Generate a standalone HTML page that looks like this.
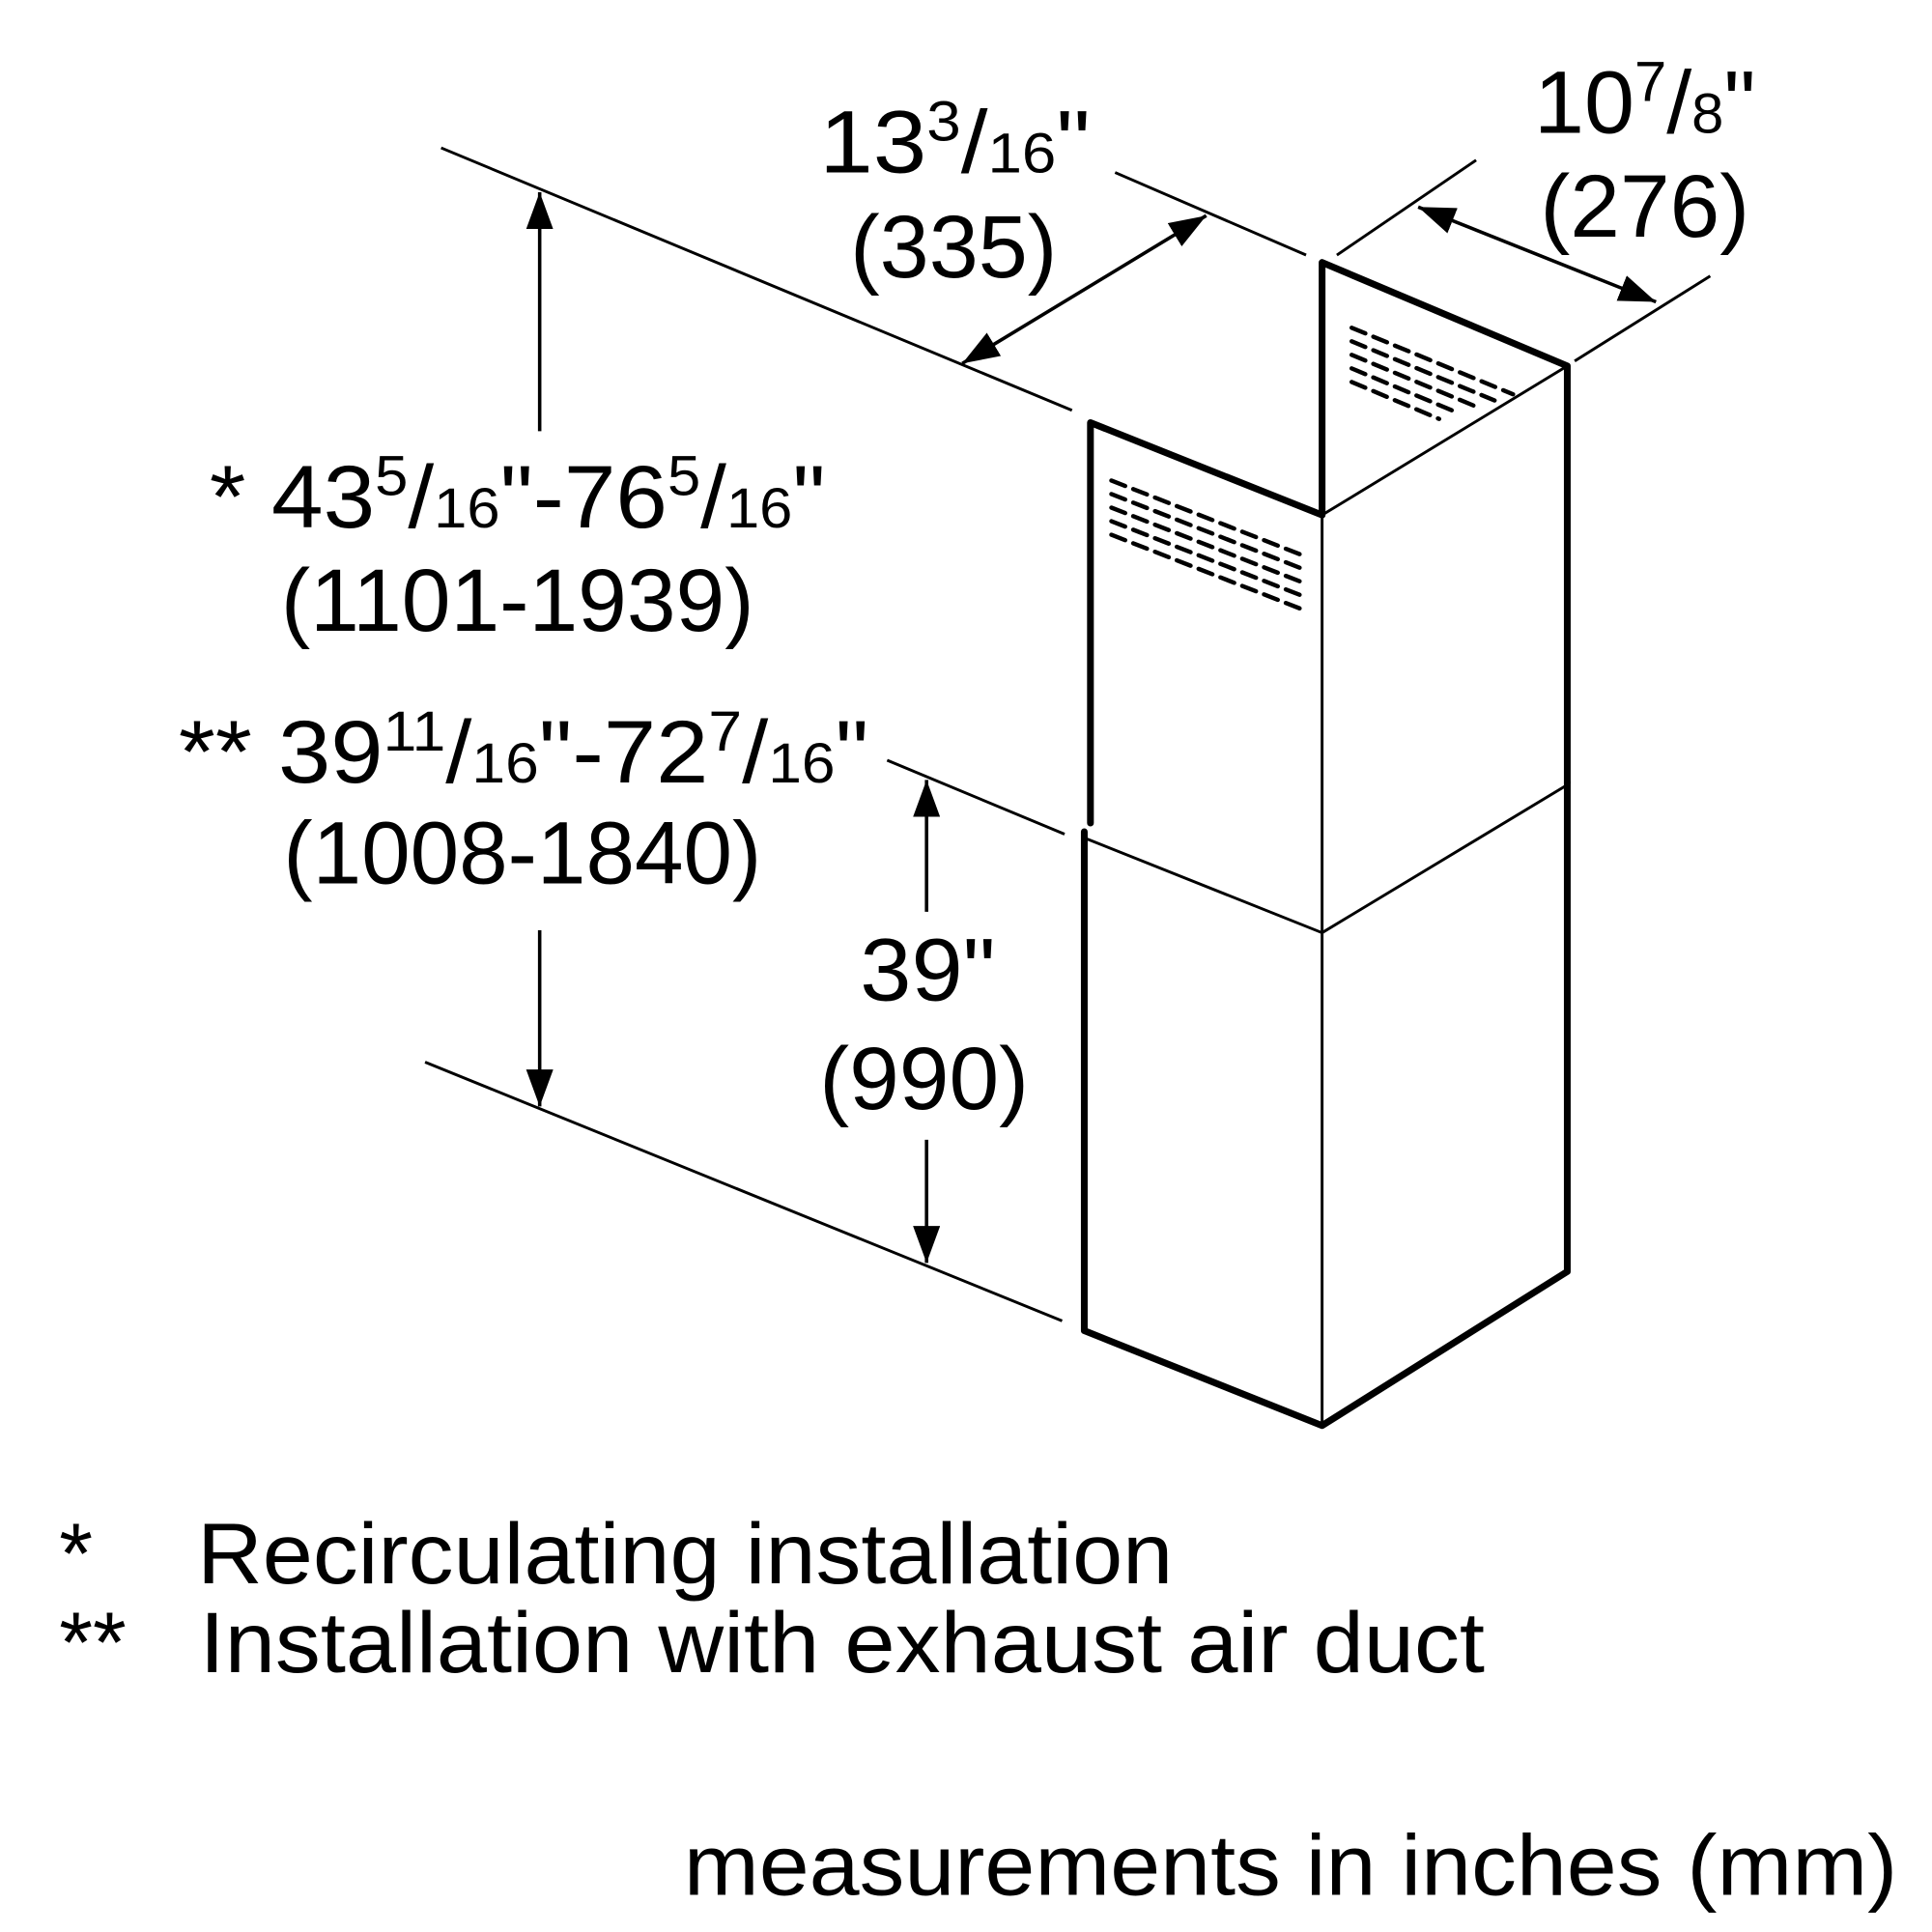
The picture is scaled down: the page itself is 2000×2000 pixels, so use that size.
<!DOCTYPE html>
<html><head><meta charset="utf-8"><style>html,body{margin:0;padding:0;background:#fff}svg{display:block}</style></head>
<body>
<svg width="2000" height="2000" viewBox="0 0 1568 1568" xmlns="http://www.w3.org/2000/svg" font-family="Liberation Sans, Arial, sans-serif" fill="#000">
<defs>
<marker id="a" viewBox="0 0 10 10" refX="10" refY="5" markerWidth="30" markerHeight="22" markerUnits="userSpaceOnUse" orient="auto-start-reverse" preserveAspectRatio="none"><path d="M0,0 L10,5 L0,10 z"/></marker>
</defs>
<g stroke="#000" stroke-width="2.3" fill="none">
<line x1="358" y1="120" x2="870" y2="333"/>
<line x1="345" y1="862" x2="862" y2="1072"/>
<line x1="720" y1="617" x2="864" y2="677"/>
<line x1="905" y1="140" x2="1060" y2="207"/>
<line x1="1085" y1="207" x2="1198" y2="130"/>
<line x1="1278" y1="293" x2="1388" y2="224"/>
<g stroke-width="2.8">
<line x1="438" y1="350" x2="438" y2="156" marker-end="url(#a)"/>
<line x1="438" y1="755" x2="438" y2="898" marker-end="url(#a)"/>
<line x1="752" y1="740" x2="752" y2="633" marker-end="url(#a)"/>
<line x1="752" y1="925" x2="752" y2="1025" marker-end="url(#a)"/>
<line x1="781" y1="295" x2="979" y2="175" marker-start="url(#a)" marker-end="url(#a)"/>
<line x1="1151" y1="168" x2="1344" y2="245" marker-start="url(#a)" marker-end="url(#a)"/>
</g>
<line x1="1073" y1="418" x2="1272" y2="297"/>
<line x1="1073" y1="418" x2="1073" y2="1157"/>
<line x1="880" y1="680" x2="1073" y2="757"/>
<line x1="1073" y1="757" x2="1272" y2="637"/>
<g stroke-width="5.5" stroke-linejoin="round" stroke-linecap="round">
<polyline points="885,668 885,343 1073,418"/>
<polyline points="1073,418 1073,213 1272,297 1272,635"/>
<polyline points="880,675 880,1080 1073,1157 1272,1032 1272,635"/>
</g>
<g stroke-width="3.5" stroke-dasharray="12,7" stroke-linecap="round">
<line x1="902" y1="390" x2="1058" y2="451"/>
<line x1="902" y1="401" x2="1058" y2="462"/>
<line x1="902" y1="412" x2="1058" y2="473"/>
<line x1="902" y1="423" x2="1058" y2="484"/>
<line x1="902" y1="434" x2="1058" y2="495"/>
<line x1="1097" y1="266" x2="1228" y2="320"/>
<line x1="1097" y1="277" x2="1213" y2="325"/>
<line x1="1097" y1="288" x2="1198" y2="330"/>
<line x1="1097" y1="299" x2="1183" y2="335"/>
<line x1="1097" y1="310" x2="1168" y2="340"/>
</g>
</g>
<g font-size="72" lengthAdjust="spacingAndGlyphs">
<text x="665" y="140" textLength="220" lengthAdjust="spacingAndGlyphs">13<tspan font-size="46" dy="-26">3</tspan><tspan dy="26">/</tspan><tspan font-size="46">16</tspan>"</text>
<text x="690" y="225" textLength="168" lengthAdjust="spacingAndGlyphs">(335)</text>
<text x="1245" y="108" textLength="180" lengthAdjust="spacingAndGlyphs">10<tspan font-size="46" dy="-26">7</tspan><tspan dy="26">/</tspan><tspan font-size="46">8</tspan>"</text>
<text x="1250" y="192" textLength="170" lengthAdjust="spacingAndGlyphs">(276)</text>
<text x="170" y="428" textLength="500" lengthAdjust="spacingAndGlyphs">* 43<tspan font-size="46" dy="-26">5</tspan><tspan dy="26">/</tspan><tspan font-size="46">16</tspan>"-76<tspan font-size="46" dy="-26">5</tspan><tspan dy="26">/</tspan><tspan font-size="46">16</tspan>"</text>
<text x="228" y="512" textLength="384" lengthAdjust="spacingAndGlyphs">(1101-1939)</text>
<text x="145" y="635" textLength="560" lengthAdjust="spacingAndGlyphs">** 39<tspan font-size="46" dy="-26">11</tspan><tspan dy="26">/</tspan><tspan font-size="46">16</tspan>"-72<tspan font-size="46" dy="-26">7</tspan><tspan dy="26">/</tspan><tspan font-size="46">16</tspan>"</text>
<text x="230" y="717" textLength="388" lengthAdjust="spacingAndGlyphs">(1008-1840)</text>
<text x="698" y="812" textLength="110" lengthAdjust="spacingAndGlyphs">39"</text>
<text x="665" y="900" textLength="170" lengthAdjust="spacingAndGlyphs">(990)</text>
</g>
<g font-size="70">
<text x="48" y="1285">*</text>
<text x="160" y="1285" textLength="792" lengthAdjust="spacingAndGlyphs">Recirculating installation</text>
<text x="48" y="1357">**</text>
<text x="162" y="1357" textLength="1043" lengthAdjust="spacingAndGlyphs">Installation with exhaust air duct</text>
<text x="555" y="1538" textLength="985" lengthAdjust="spacingAndGlyphs">measurements in inches (mm)</text>
</g>
</svg>
</body></html>
